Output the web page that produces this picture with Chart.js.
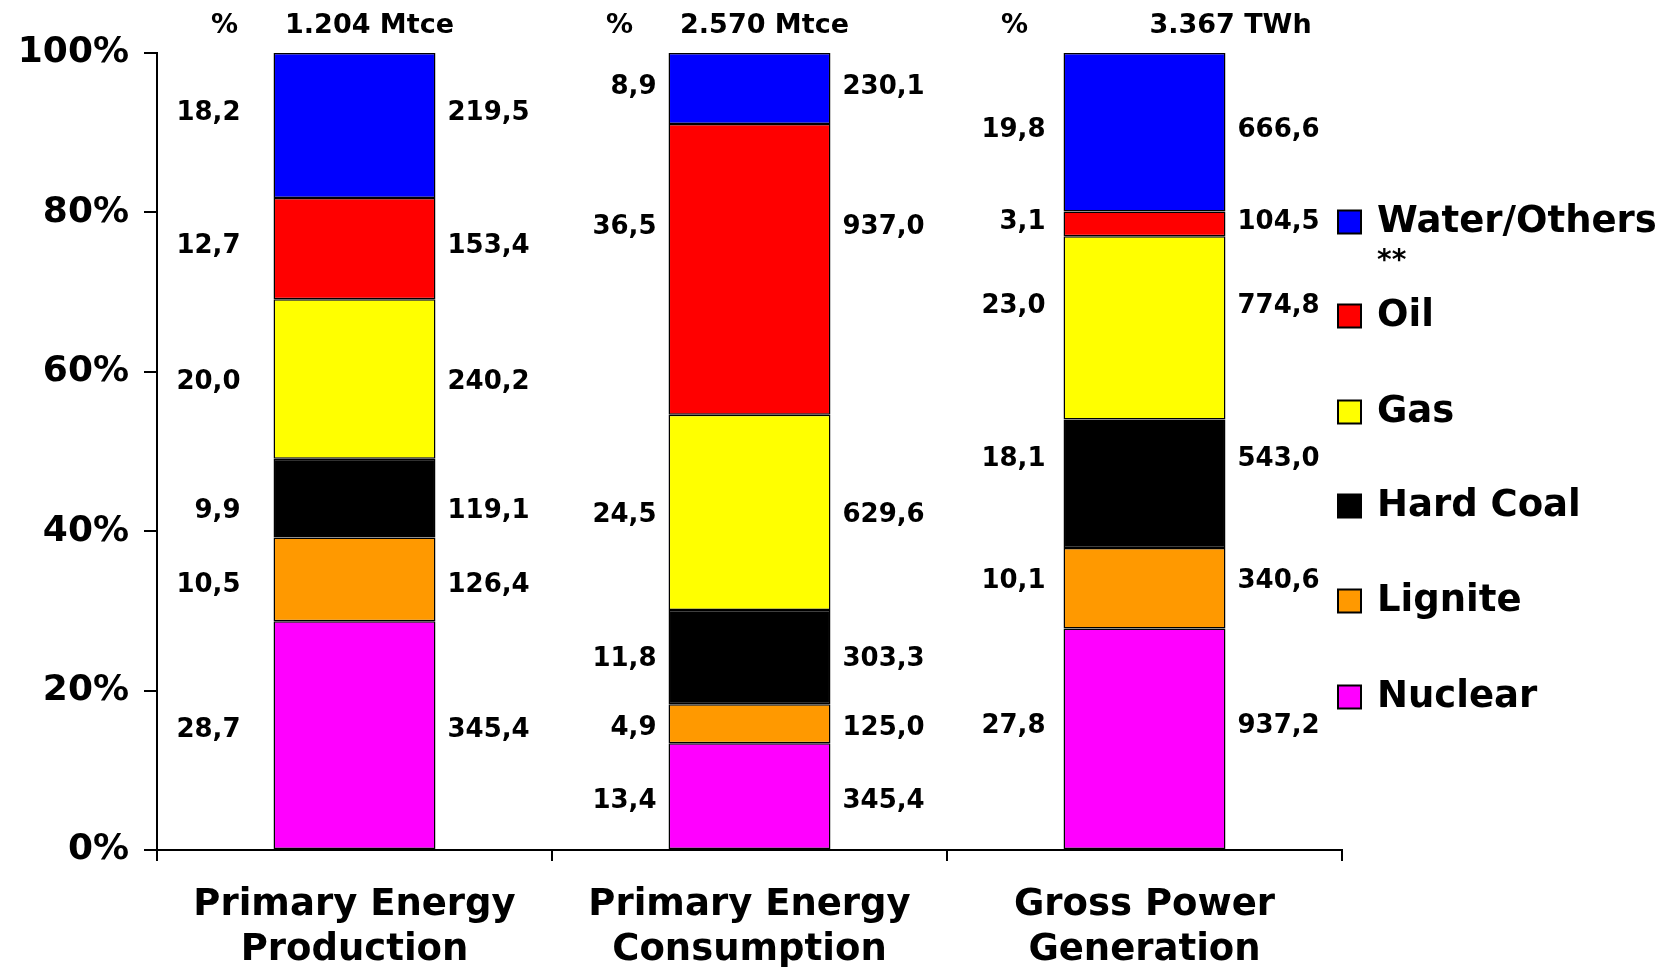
<!DOCTYPE html>
<html>
<head>
<meta charset="utf-8">
<script src="https://cdn.jsdelivr.net/npm/chart.js@4.4.0/dist/chart.umd.min.js"></script>
<style>
  html, body { margin: 0; padding: 0; background: #fff; }
  canvas { display: block; }
</style>
</head>
<body>
<canvas id="energyChart" width="1668" height="967"></canvas>
<script>
// Categories (two-line x labels) and the total printed over each bar
const categories = [
    ['Primary Energy', 'Production'],
    ['Primary Energy', 'Consumption'],
    ['Gross Power', 'Generation']
];
const totals = ['1.204 Mtce', '2.570 Mtce', '3.367 TWh'];
const yTicks = [0, 20, 40, 60, 80, 100];

// Share of each source in % (bar heights, bottom to top)
const nuclearShare  = [28.7, 13.4, 27.8];
const ligniteShare  = [10.5, 4.9, 10.1];
const hardCoalShare = [9.9, 11.8, 16.1];
const gasShare      = [20.0, 24.5, 23.0];
const oilShare      = [12.7, 36.5, 3.1];
const waterShare    = [18.2, 8.9, 19.9];

// Printed percent labels (left of bars)
const nuclearPct  = ['28,7', '13,4', '27,8'];
const lignitePct  = ['10,5', '4,9', '10,1'];
const hardCoalPct = ['9,9', '11,8', '18,1'];
const gasPct      = ['20,0', '24,5', '23,0'];
const oilPct      = ['12,7', '36,5', '3,1'];
const waterPct    = ['18,2', '8,9', '19,8'];

// Printed absolute values (right of bars)
const nuclearAbs  = ['345,4', '345,4', '937,2'];
const ligniteAbs  = ['126,4', '125,0', '340,6'];
const hardCoalAbs = ['119,1', '303,3', '543,0'];
const gasAbs      = ['240,2', '629,6', '774,8'];
const oilAbs      = ['153,4', '937,0', '104,5'];
const waterAbs    = ['219,5', '230,1', '666,6'];

const FONT = "'DejaVu Sans', sans-serif";

const datasets = [
    { label: 'Nuclear', data: nuclearShare, backgroundColor: '#FF00FF', pct: nuclearPct, abs: nuclearAbs },
    { label: 'Lignite', data: ligniteShare, backgroundColor: '#FF9900', pct: lignitePct, abs: ligniteAbs },
    { label: 'Hard Coal', data: hardCoalShare, backgroundColor: '#000000', pct: hardCoalPct, abs: hardCoalAbs },
    { label: 'Gas', data: gasShare, backgroundColor: '#FFFF00', pct: gasPct, abs: gasAbs },
    { label: 'Oil', data: oilShare, backgroundColor: '#FF0000', pct: oilPct, abs: oilAbs },
    { label: 'Water/Others', data: waterShare, backgroundColor: '#0000FF', pct: waterPct, abs: waterAbs }
].map(d => ({ ...d, borderColor: '#000', borderWidth: 1.5, borderSkipped: false, barPercentage: 0.41, categoryPercentage: 1 }));

// hand placement of a few labels as in the original slide (px, by dataset then category)
const labelNudge = {
    0: [-5, 5, -12],
    1: [6, 5, -7],
    2: [13, 2, -25],
    3: [3, 3, -22],
    4: [-2, -42, -2],
    5: [-12, -1, -2]
};
const pctGap = [33, 12, 18];
const headerDx = [15, 15, 86];

const labelPlugin = {
    id: 'segmentLabels',
    afterDatasetsDraw(chart) {
        const ctx = chart.ctx;
        ctx.save();
        ctx.fillStyle = '#000';
        ctx.font = `bold 26px ${FONT}`;
        ctx.textBaseline = 'middle';
        chart.data.datasets.forEach((ds, di) => {
            chart.getDatasetMeta(di).data.forEach((bar, i) => {
                const p = bar.getProps(['x', 'y', 'base', 'width'], true);
                const y = (p.y + p.base) / 2 + labelNudge[di][i];
                ctx.textAlign = 'right';
                ctx.fillText(ds.pct[i], p.x - p.width / 2 - pctGap[i], y);
                ctx.textAlign = 'left';
                ctx.fillText(ds.abs[i], p.x + p.width / 2 + 12, y);
            });
        });
        // headers
        ctx.font = `bold 27px ${FONT}`;
        ctx.textAlign = 'center';
        chart.getDatasetMeta(0).data.forEach((bar, i) => {
            ctx.fillText('%', bar.x - 130, 26);
            ctx.fillText(totals[i], bar.x + headerDx[i], 26);
        });
        ctx.restore();
    },
    afterDraw(chart) {
        const ctx = chart.ctx;
        const legendY = [222, 316, 412, 506, 601, 697];
        const bx = 1338, tx = 1377, box = 23;
        ctx.save();
        ctx.textBaseline = 'middle';
        ctx.textAlign = 'left';
        const items = chart.data.datasets.slice().reverse();
        items.forEach((ds, k) => {
            const y = legendY[k];
            ctx.fillStyle = ds.backgroundColor;
            ctx.fillRect(bx, y - box / 2, box, box);
            ctx.strokeStyle = '#000';
            ctx.lineWidth = 2;
            ctx.strokeRect(bx, y - box / 2, box, box);
            ctx.fillStyle = '#000';
            ctx.font = `bold 37px ${FONT}`;
            ctx.fillText(ds.label, tx, y);
        });
        ctx.font = `bold 28px ${FONT}`;
        ctx.fillText('**', tx, 262);
        ctx.restore();
    }
};

new Chart(document.getElementById('energyChart'), {
    type: 'bar',
    data: { labels: categories, datasets: datasets },
    options: {
        responsive: false,
        animation: false,
        devicePixelRatio: 1,
        layout: { padding: { top: 53, right: 326, bottom: 0, left: 0 } },
        plugins: { legend: { display: false }, tooltip: { enabled: false } },
        scales: {
            x: {
                stacked: true,
                afterFit: s => { s.height = 117; },
                grid: { drawOnChartArea: false, drawTicks: true, tickLength: 11, color: '#000', lineWidth: 2 },
                border: { display: true, color: '#000', width: 2 },
                ticks: { color: '#000', padding: 22, font: { family: FONT, size: 37, weight: 'bold', lineHeight: 1.22 } }
            },
            y: {
                stacked: true,
                min: 0,
                max: 100,
                afterFit: s => { s.width = 157; },
                afterBuildTicks: s => { s.ticks = yTicks.map(v => ({ value: v })); },
                grid: { drawOnChartArea: false, drawTicks: true, tickLength: 13, color: '#000', lineWidth: 2 },
                border: { display: true, color: '#000', width: 2 },
                ticks: { color: '#000', padding: 15, callback: v => v + '%', font: { family: FONT, size: 36, weight: 'bold' } }
            }
        }
    },
    plugins: [labelPlugin]
});
</script>
</body>
</html>
